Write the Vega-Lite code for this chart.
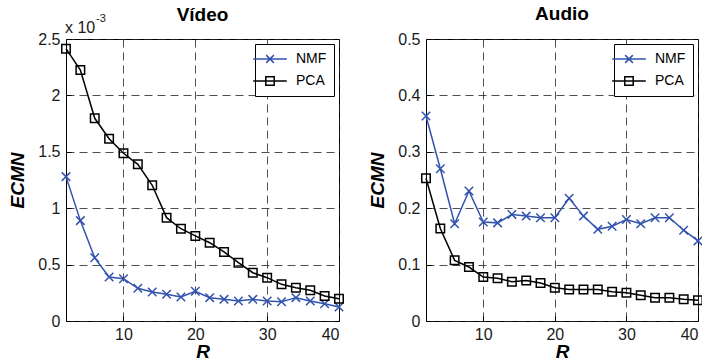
{
  "$schema": "https://vega.github.io/schema/vega-lite/v6.json",
  "background": "white",
  "padding": {"left": 8, "top": 4, "right": -4, "bottom": 0},
  "config": {
    "font": "Liberation Sans",
    "view": {"stroke": "black", "strokeWidth": 1},
    "axis": {
      "domain": false, "grid": true, "gridColor": "#222", "gridDash": [8, 5], "gridWidth": 0.8,
      "ticks": true, "tickColor": "black", "tickSize": -5, "tickWidth": 1,
      "labelFontSize": 16, "labelColor": "#1a1a1a", "labelFont": "Liberation Sans",
      "titleFont": "Liberation Sans", "titleFontSize": 19, "titleFontWeight": "bold",
      "titleFontStyle": "italic", "titleColor": "black"
    },
    "axisX": {"labelPadding": 10, "titlePadding": 0},
    "axisY": {"labelPadding": 11, "titlePadding": 10},
    "title": {"fontSize": 19, "fontWeight": "bold", "font": "Liberation Sans", "color": "black", "frame": "group"},
    "legend": {
      "orient": "top-right", "offset": 5, "title": null, "strokeColor": "black", "fillColor": "white",
      "padding": 7, "labelFontSize": 14, "labelFont": "Liberation Sans", "labelColor": "black",
      "symbolSize": 196, "symbolStrokeWidth": 1.5, "labelOffset": 18, "rowPadding": 7
    }
  },
  "datasets": {
    "video": [
      {"R": 2, "method": "NMF", "value": 1.28}, {"R": 4, "method": "NMF", "value": 0.89},
      {"R": 6, "method": "NMF", "value": 0.56}, {"R": 8, "method": "NMF", "value": 0.39},
      {"R": 10, "method": "NMF", "value": 0.375}, {"R": 12, "method": "NMF", "value": 0.29},
      {"R": 14, "method": "NMF", "value": 0.257}, {"R": 16, "method": "NMF", "value": 0.237},
      {"R": 18, "method": "NMF", "value": 0.213}, {"R": 20, "method": "NMF", "value": 0.263},
      {"R": 22, "method": "NMF", "value": 0.207}, {"R": 24, "method": "NMF", "value": 0.192},
      {"R": 26, "method": "NMF", "value": 0.177}, {"R": 28, "method": "NMF", "value": 0.192},
      {"R": 30, "method": "NMF", "value": 0.177}, {"R": 32, "method": "NMF", "value": 0.171},
      {"R": 34, "method": "NMF", "value": 0.207}, {"R": 36, "method": "NMF", "value": 0.177},
      {"R": 38, "method": "NMF", "value": 0.153}, {"R": 40, "method": "NMF", "value": 0.124},
      {"R": 2, "method": "PCA", "value": 2.414}, {"R": 4, "method": "PCA", "value": 2.225},
      {"R": 6, "method": "PCA", "value": 1.797}, {"R": 8, "method": "PCA", "value": 1.616},
      {"R": 10, "method": "PCA", "value": 1.487}, {"R": 12, "method": "PCA", "value": 1.389},
      {"R": 14, "method": "PCA", "value": 1.203}, {"R": 16, "method": "PCA", "value": 0.916},
      {"R": 18, "method": "PCA", "value": 0.818}, {"R": 20, "method": "PCA", "value": 0.754},
      {"R": 22, "method": "PCA", "value": 0.694}, {"R": 24, "method": "PCA", "value": 0.612},
      {"R": 26, "method": "PCA", "value": 0.517}, {"R": 28, "method": "PCA", "value": 0.428},
      {"R": 30, "method": "PCA", "value": 0.384}, {"R": 32, "method": "PCA", "value": 0.325},
      {"R": 34, "method": "PCA", "value": 0.295}, {"R": 36, "method": "PCA", "value": 0.272},
      {"R": 38, "method": "PCA", "value": 0.222}, {"R": 40, "method": "PCA", "value": 0.198}
    ],
    "audio": [
      {"R": 2, "method": "NMF", "value": 0.3635}, {"R": 4, "method": "NMF", "value": 0.27},
      {"R": 6, "method": "NMF", "value": 0.1725}, {"R": 8, "method": "NMF", "value": 0.2305},
      {"R": 10, "method": "NMF", "value": 0.1755}, {"R": 12, "method": "NMF", "value": 0.174},
      {"R": 14, "method": "NMF", "value": 0.189}, {"R": 16, "method": "NMF", "value": 0.186},
      {"R": 18, "method": "NMF", "value": 0.183}, {"R": 20, "method": "NMF", "value": 0.183},
      {"R": 22, "method": "NMF", "value": 0.2175}, {"R": 24, "method": "NMF", "value": 0.186},
      {"R": 26, "method": "NMF", "value": 0.1625}, {"R": 28, "method": "NMF", "value": 0.168},
      {"R": 30, "method": "NMF", "value": 0.18}, {"R": 32, "method": "NMF", "value": 0.1725},
      {"R": 34, "method": "NMF", "value": 0.183}, {"R": 36, "method": "NMF", "value": 0.183},
      {"R": 38, "method": "NMF", "value": 0.161}, {"R": 40, "method": "NMF", "value": 0.142},
      {"R": 2, "method": "PCA", "value": 0.253}, {"R": 4, "method": "PCA", "value": 0.164},
      {"R": 6, "method": "PCA", "value": 0.1076}, {"R": 8, "method": "PCA", "value": 0.0957},
      {"R": 10, "method": "PCA", "value": 0.078}, {"R": 12, "method": "PCA", "value": 0.0757},
      {"R": 14, "method": "PCA", "value": 0.0697}, {"R": 16, "method": "PCA", "value": 0.072},
      {"R": 18, "method": "PCA", "value": 0.0674}, {"R": 20, "method": "PCA", "value": 0.059},
      {"R": 22, "method": "PCA", "value": 0.056}, {"R": 24, "method": "PCA", "value": 0.056},
      {"R": 26, "method": "PCA", "value": 0.056}, {"R": 28, "method": "PCA", "value": 0.052},
      {"R": 30, "method": "PCA", "value": 0.05}, {"R": 32, "method": "PCA", "value": 0.0455},
      {"R": 34, "method": "PCA", "value": 0.0414}, {"R": 36, "method": "PCA", "value": 0.0414},
      {"R": 38, "method": "PCA", "value": 0.0385}, {"R": 40, "method": "PCA", "value": 0.0367}
    ]
  },
  "spacing": 87,
  "bounds": "flush",
  "resolve": {"legend": {"color": "independent"}, "scale": {"color": "independent"}},
  "hconcat": [
    {
      "title": {"text": "Vídeo", "offset": -12},
      "width": 273, "height": 282,
      "data": {"name": "video"},
      "encoding": {
        "x": {"field": "R", "type": "quantitative", "scale": {"domain": [2, 40], "nice": false, "zero": false}, "axis": {"values": [10, 20, 30, 40], "title": "R"}},
        "y": {"field": "value", "type": "quantitative", "scale": {"domain": [0, 2.5], "nice": false}, "axis": {"values": [0, 0.5, 1, 1.5, 2, 2.5], "format": ".1~f", "title": "ECMN"}}
      },
      "layer": [
        {
          "mark": {"type": "line", "strokeWidth": 1.5},
          "encoding": {
            "color": {"field": "method", "type": "nominal", "scale": {"domain": ["NMF", "PCA"], "range": ["#3253ad", "#000000"]},
              "legend": {"encode": {"symbols": {"update": {
                "shape": {"signal": "datum.value === 'NMF' ? 'M-2.4,0H2.4M-0.55,-0.55L0.55,0.55M-0.55,0.55L0.55,-0.55' : 'M-2.4,0H2.4M-0.6,-0.6H0.6V0.6H-0.6Z'"},
                "fill": {"value": "transparent"}, "strokeWidth": {"value": 1.5}}}}}}
          }
        },
        {
          "mark": {"type": "point", "filled": false, "strokeWidth": 1.5, "opacity": 1, "size": 72},
          "encoding": {
            "color": {"field": "method", "type": "nominal", "scale": {"domain": ["NMF", "PCA"], "range": ["#3253ad", "#000000"]}, "legend": null},
            "shape": {"field": "method", "type": "nominal", "scale": {"domain": ["NMF", "PCA"], "range": ["M-1,-1L1,1M-1,1L1,-1", "square"]}, "legend": null}
          }
        },
        {
          "data": {"values": [{"R": 2, "value": 2.5, "t": "x 10"}]},
          "mark": {"type": "text", "align": "left", "baseline": "alphabetic", "dx": -1, "dy": -6, "fontSize": 16, "font": "Liberation Sans", "fill": "#1a1a1a"},
          "encoding": {"text": {"field": "t", "type": "nominal"}}
        },
        {
          "data": {"values": [{"R": 2, "value": 2.5, "t": "-3"}]},
          "mark": {"type": "text", "align": "left", "baseline": "alphabetic", "dx": 30, "dy": -17, "fontSize": 11, "font": "Liberation Sans", "fill": "#1a1a1a"},
          "encoding": {"text": {"field": "t", "type": "nominal"}}
        }
      ]
    },
    {
      "title": {"text": "Audio", "offset": 7},
      "width": 272, "height": 282,
      "data": {"name": "audio"},
      "encoding": {
        "x": {"field": "R", "type": "quantitative", "scale": {"domain": [2, 40], "nice": false, "zero": false}, "axis": {"values": [10, 20, 30, 40], "title": "R"}},
        "y": {"field": "value", "type": "quantitative", "scale": {"domain": [0, 0.5], "nice": false}, "axis": {"values": [0, 0.1, 0.2, 0.3, 0.4, 0.5], "format": ".1~f", "title": "ECMN"}}
      },
      "layer": [
        {
          "mark": {"type": "line", "strokeWidth": 1.5},
          "encoding": {
            "color": {"field": "method", "type": "nominal", "scale": {"domain": ["NMF", "PCA"], "range": ["#3253ad", "#000000"]},
              "legend": {"encode": {"symbols": {"update": {
                "shape": {"signal": "datum.value === 'NMF' ? 'M-2.4,0H2.4M-0.55,-0.55L0.55,0.55M-0.55,0.55L0.55,-0.55' : 'M-2.4,0H2.4M-0.6,-0.6H0.6V0.6H-0.6Z'"},
                "fill": {"value": "transparent"}, "strokeWidth": {"value": 1.5}}}}}}
          }
        },
        {
          "mark": {"type": "point", "filled": false, "strokeWidth": 1.5, "opacity": 1, "size": 72},
          "encoding": {
            "color": {"field": "method", "type": "nominal", "scale": {"domain": ["NMF", "PCA"], "range": ["#3253ad", "#000000"]}, "legend": null},
            "shape": {"field": "method", "type": "nominal", "scale": {"domain": ["NMF", "PCA"], "range": ["M-1,-1L1,1M-1,1L1,-1", "square"]}, "legend": null}
          }
        }
      ]
    }
  ]
}
